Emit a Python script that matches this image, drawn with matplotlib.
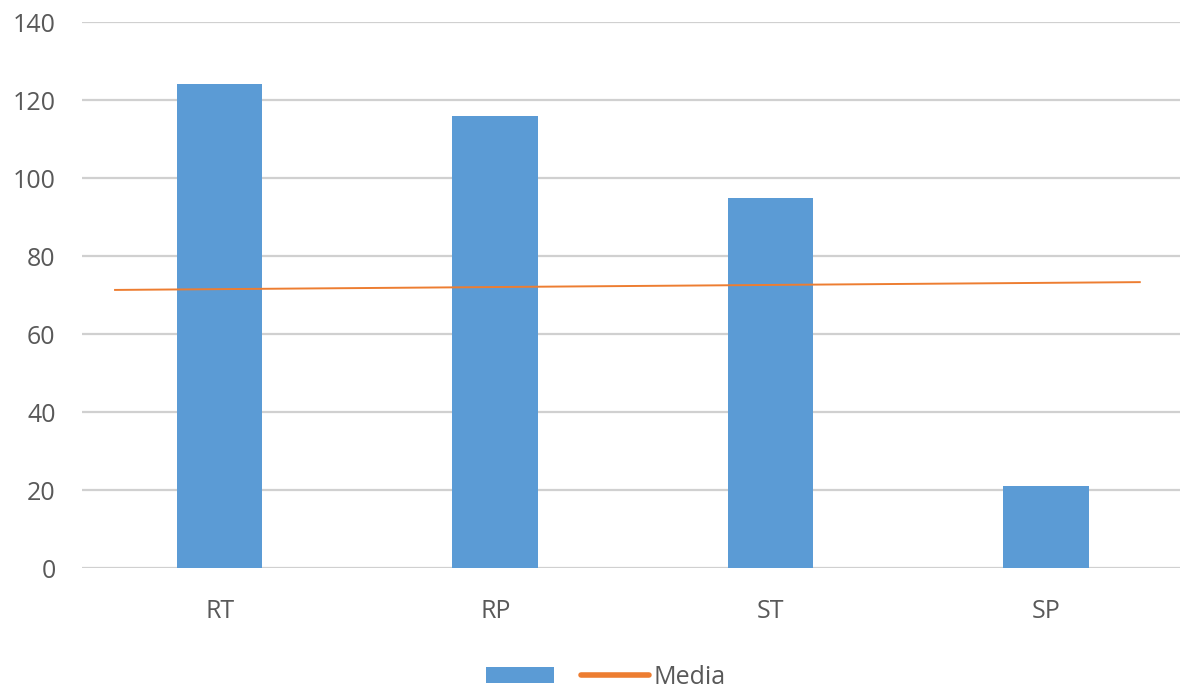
import matplotlib
matplotlib.use("Agg")
import matplotlib.pyplot as plt
from matplotlib.lines import Line2D

# Data
categories = ["RT", "RP", "ST", "SP"]
values = [124, 116, 95, 21]
media_x = [-0.38, 3.34]          # line endpoints, in category units
media_y = [71.3, 73.3]
y_ticks = [0, 20, 40, 60, 80, 100, 120, 140]

BLUE = "#5B9BD5"
ORANGE = "#ED7D31"
GRID = "#D0D0D0"
TEXT = "#595959"

plt.rcParams["font.family"] = ["Open Sans", "DejaVu Sans"]

fig = plt.figure(figsize=(11.8, 6.9), dpi=100)
ax = fig.add_axes([82 / 1180, 122 / 690, (1180 - 82) / 1180, 546 / 690])

x = list(range(len(categories)))
bars = ax.bar(x, values, width=0.31, color=BLUE, zorder=2)
line, = ax.plot(media_x, media_y, color=ORANGE, lw=1.4, zorder=3)

ax.set_xlim(-0.5, 3.486)
ax.set_ylim(0, 140)
ax.set_yticks(y_ticks)
ax.set_xticks(x)
ax.set_xticklabels(categories)

ax.yaxis.grid(True, color=GRID, lw=1.6, zorder=0)
ax.set_axisbelow(True)
for s in ax.spines.values():
    s.set_visible(False)
ax.tick_params(axis="both", length=0, labelsize=18, labelcolor=TEXT)
ax.tick_params(axis="y", pad=19)
ax.tick_params(axis="x", pad=22)

legend_line = Line2D([], [], color=ORANGE, lw=4, solid_capstyle="round")
fig.legend([bars, legend_line], ["", "Media"], loc="center",
           bbox_to_anchor=(606 / 1180, 1 - 677 / 690), ncol=2,
           frameon=False, fontsize=18, labelcolor=TEXT,
           handlelength=2.7, handleheight=0.6, handletextpad=0.2,
           columnspacing=0.9)

fig.savefig("out.png", dpi=100, facecolor="white")
